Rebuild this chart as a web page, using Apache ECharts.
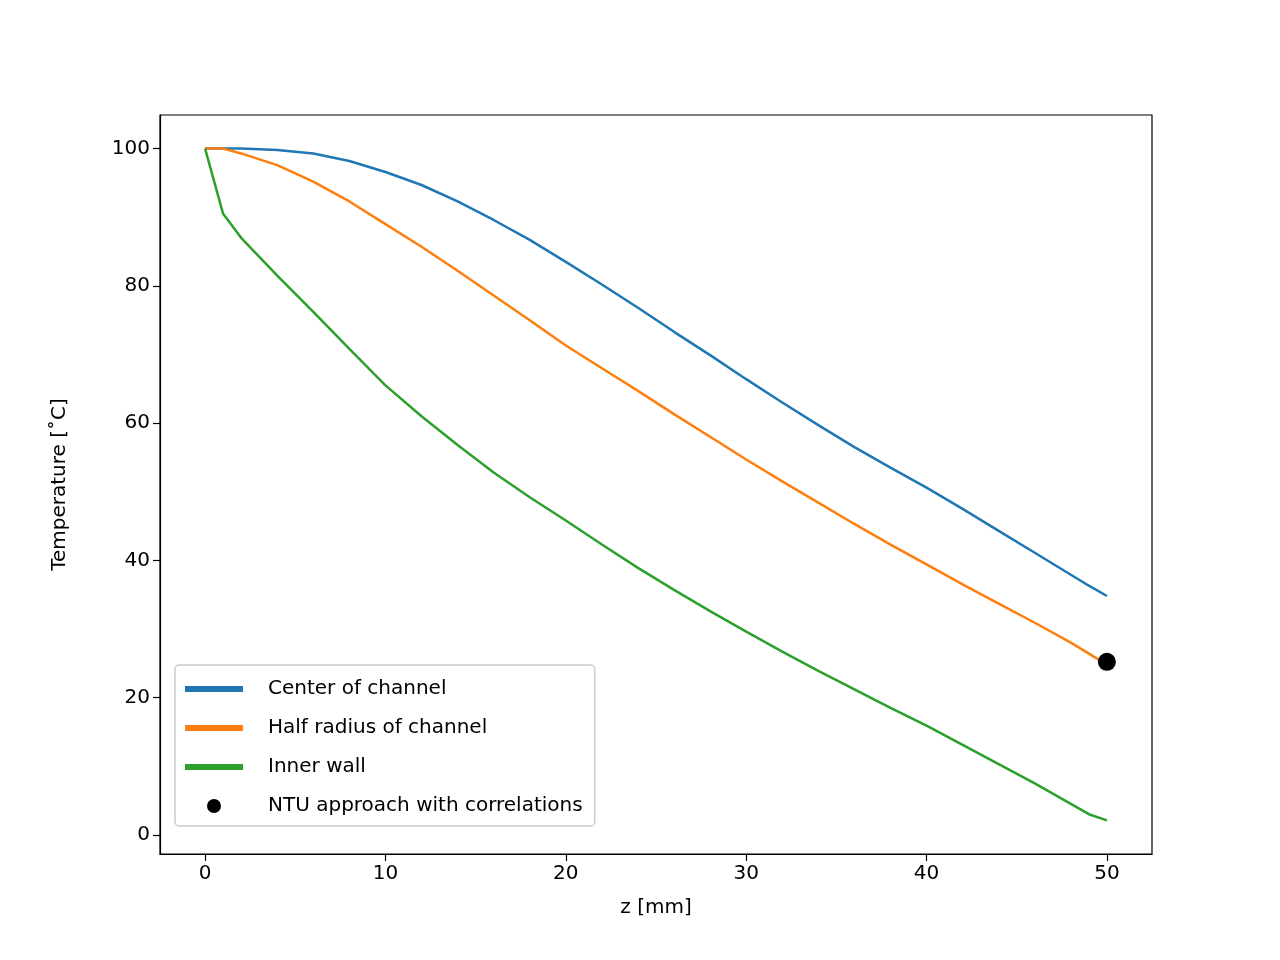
<!DOCTYPE html><html><head><meta charset="utf-8"><script src="https://cdn.jsdelivr.net/npm/echarts@6/dist/echarts.min.js"></script></head><body style="margin:0"><div id="c" style="width:1280px;height:960px"></div><script>
const z=[0,1,2,4,6,8,10,12,14,16,18,20,22,24,26,28,30,32,34,36,38,40,42,44,46,48,49,50];
const center=[100,100,100,99.8,99.3,98.2,96.6,94.7,92.3,89.6,86.7,83.5,80.2,76.8,73.3,69.9,66.4,63.0,59.7,56.5,53.5,50.6,47.5,44.3,41.1,37.9,36.3,34.8];
const half=[100,100,99.3,97.6,95.2,92.3,89,85.7,82.2,78.6,75,71.3,68,64.7,61.3,58,54.7,51.5,48.4,45.3,42.3,39.4,36.5,33.7,30.9,28.0,26.4,24.8];
const wall=[100,90.5,87,81.5,76.2,70.8,65.5,61,56.8,52.8,49.2,45.8,42.3,38.9,35.7,32.6,29.6,26.7,23.9,21.2,18.5,15.9,13.1,10.3,7.5,4.5,3.0,2.1];
const ntu=[[50,25.2]];
const xTicks=[0,10,20,30,40,50], yTicks=[0,20,40,60,80,100];
const pair=a=>z.map((v,i)=>[v,a[i]]);
const F='DejaVu Sans';
const ch=echarts.init(document.getElementById('c'));
const line=(n,d,c)=>({name:n,type:'line',data:pair(d),symbol:'none',lineStyle:{color:c,width:2.5},itemStyle:{color:c}});
const li='path://M0,0H40V4H0Z';
const ax={axisLine:{show:true,onZero:false,lineStyle:{color:'#000',width:1.2}},splitLine:{show:false},axisTick:{show:true,inside:false,length:7,lineStyle:{color:'#000',width:1.2}},axisLabel:{fontFamily:F,fontSize:20,color:'#000',margin:10}};
ch.setOption({animation:false,backgroundColor:'#fff',
grid:{left:160,right:128,top:115,bottom:106,show:true,borderColor:'#000',borderWidth:1.2},
xAxis:Object.assign({type:'value',min:-2.5,max:52.5,name:'z [mm]',nameLocation:'middle',nameGap:44,nameTextStyle:{fontFamily:F,fontSize:20,color:'#000'}},ax,{axisTick:Object.assign({},ax.axisTick,{customValues:xTicks}),axisLabel:Object.assign({},ax.axisLabel,{customValues:xTicks})}),
yAxis:Object.assign({type:'value',min:-2.8,max:104.9,name:'Temperature [˚C]',nameLocation:'middle',nameGap:90,nameTextStyle:{fontFamily:F,fontSize:20,color:'#000'}},ax,{axisTick:Object.assign({},ax.axisTick,{customValues:yTicks}),axisLabel:Object.assign({},ax.axisLabel,{customValues:yTicks})}),
legend:{orient:'vertical',left:175,top:665,itemGap:19,itemWidth:58,itemHeight:14,padding:[14,12,10,10],borderColor:'#ccc',borderWidth:1.5,borderRadius:4,backgroundColor:'rgba(255,255,255,0.8)',
textStyle:{fontFamily:F,fontSize:20,color:'#000',padding:[0,0,0,20]},
data:[{name:'Center of channel',icon:li},{name:'Half radius of channel',icon:li},{name:'Inner wall',icon:li},{name:'NTU approach with correlations',icon:'path://M20,0A7,7 0 1,1 19.99,0Z'}]},
series:[line('Center of channel',center,'#1f77b4'),line('Half radius of channel',half,'#ff7f0e'),line('Inner wall',wall,'#2ca02c'),
{name:'NTU approach with correlations',type:'scatter',data:ntu,symbolSize:18,z:5,itemStyle:{color:'#000',opacity:1}}]});
</script></body></html>
